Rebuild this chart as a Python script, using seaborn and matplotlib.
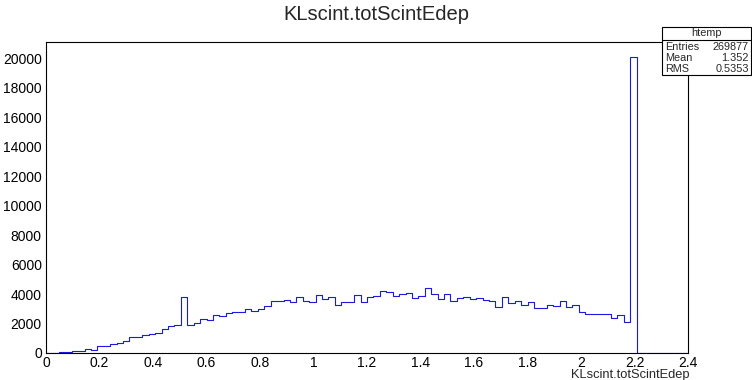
import numpy as np
import pandas as pd
import matplotlib
matplotlib.use("Agg")
import matplotlib.pyplot as plt
import seaborn as sns

# histogram htemp: 100 bins over 0..2.4, counts
bin_lo = 0.0
bin_hi = 2.4
n_bins = 100
counts = [
    5, 20, 40, 70, 140, 140, 250, 190, 470, 470,
    610, 700, 800, 1090, 1090, 1200, 1270, 1330, 1610, 1810,
    1880, 3810, 1930, 2020, 2290, 2210, 2560, 2490, 2720, 2770,
    2750, 2970, 2860, 2960, 3180, 3500, 3500, 3590, 3480, 3820,
    3520, 3460, 3940, 3690, 3830, 3280, 3450, 3440, 3920, 3440,
    3790, 3860, 4210, 4120, 3860, 3970, 4050, 3730, 3890, 4380,
    4000, 3680, 4010, 3510, 3710, 3770, 3650, 3700, 3580, 3510,
    3110, 3800, 3360, 3500, 3290, 3440, 3040, 3050, 3250, 3180,
    3520, 3130, 3270, 2750, 2660, 2660, 2660, 2660, 2380, 2570,
    2120, 20050,
]
counts = counts + [0] * (n_bins - len(counts))

x_ticks = [0, 0.2, 0.4, 0.6, 0.8, 1, 1.2, 1.4, 1.6, 1.8, 2, 2.2, 2.4]
x_tick_labels = ["0", "0.2", "0.4", "0.6", "0.8", "1", "1.2", "1.4", "1.6", "1.8", "2", "2.2", "2.4"]
y_ticks = [0, 2000, 4000, 6000, 8000, 10000, 12000, 14000, 16000, 18000, 20000]

title = "KLscint.totScintEdep"
stats_name = "htemp"
stats_rows = [("Entries", "269877"), ("Mean", "1.352"), ("RMS", "0.5353")]

sns.set_style("white")
plt.rcParams['font.family'] = ['Liberation Sans', 'DejaVu Sans']

edges = np.linspace(bin_lo, bin_hi, n_bins + 1)
df = pd.DataFrame({"x": (edges[:-1] + edges[1:]) / 2, "w": counts})

fig = plt.figure(figsize=(7.52, 3.8), dpi=100)
ax = fig.add_axes([46 / 752, 1 - 353 / 380, (688 - 46) / 752, (353 - 42) / 380])

sns.histplot(data=df, x="x", weights="w", bins=n_bins, binrange=(bin_lo, bin_hi),
             element="step", fill=False, color="#1a1ae0", linewidth=0.8, ax=ax)

ax.set_xlim(bin_lo, bin_hi)
ax.set_ylim(0, 21100)
ax.set_xticks(x_ticks)
ax.set_xticklabels(x_tick_labels)
ax.set_yticks(y_ticks)
ax.set_xticks(np.arange(0, 2.401, 0.05), minor=True)
ax.set_yticks(np.arange(0, 21001, 400), minor=True)
ax.tick_params(axis="both", which="both", direction="in", top=False, right=False,
               labelsize=10, colors="black", width=0.8)
ax.tick_params(axis="x", which="major", length=9, pad=2)
ax.tick_params(axis="x", which="minor", length=5)
ax.tick_params(axis="y", which="major", length=12, pad=3)
ax.tick_params(axis="y", which="minor", length=6)
ax.set_ylabel("")
ax.set_xlabel("")
for s in ax.spines.values():
    s.set_color("black")
    s.set_linewidth(0.8)

fig.text(0.5, 1 - 14 / 380, title, ha="center", va="center", fontsize=14.5)
fig.text(690 / 752, 1 - 375 / 380, title, ha="right", va="center", fontsize=9.3)

# stats box
bx0, bx1 = 662 / 752, 751 / 752
by1, by0 = 1 - 27 / 380, 1 - 75 / 380
box = plt.Rectangle((bx0, by0), bx1 - bx0, by1 - by0, transform=fig.transFigure,
                    facecolor="white", edgecolor="black", linewidth=0.8, zorder=5)
fig.patches.append(box)
hdr_y = 1 - 40 / 380
fig.add_artist(plt.Line2D([bx0, bx1], [hdr_y, hdr_y], transform=fig.transFigure,
                          color="black", linewidth=0.8, zorder=6))
fig.text((bx0 + bx1) / 2, 1 - 33.5 / 380, stats_name, ha="center", va="center", fontsize=7.8, zorder=7)
for i, (k, v) in enumerate(stats_rows):
    yy = 1 - (46.5 + i * 11.5) / 380
    fig.text(665 / 752, yy, k, ha="left", va="center", fontsize=7.8, zorder=7)
    fig.text(749 / 752, yy, v, ha="right", va="center", fontsize=7.8, zorder=7)

fig.savefig("out.png", dpi=100, facecolor="white")
